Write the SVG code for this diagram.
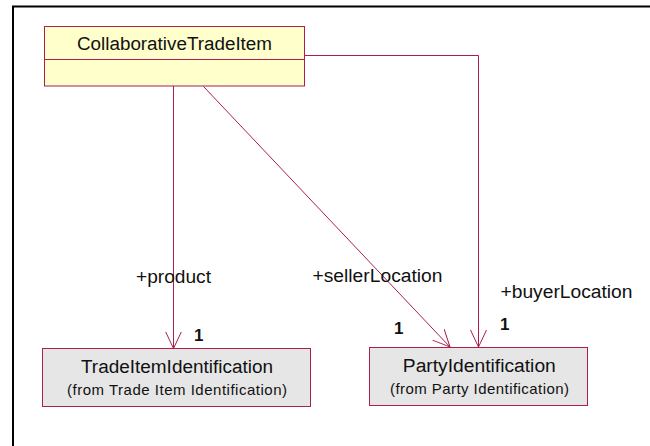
<svg xmlns="http://www.w3.org/2000/svg" width="650" height="446" viewBox="0 0 650 446">
<style>
.box{stroke:#AC1E52;stroke-width:1}
.cls{fill:#FFFFCC}
.ext{fill:#E6E6E6}
.t{font-family:"Liberation Sans",Arial,sans-serif;fill:#111;}
.big{font-size:18px;text-anchor:middle}
.small{font-size:15px;text-anchor:middle}
.lbl{font-size:18px}
.mul{font-size:17px;font-weight:bold}
.conn{fill:none;stroke:#AC1E52;stroke-width:1}
</style>
<defs>
<marker id="open" viewBox="0 0 18 18" markerWidth="18" markerHeight="18" refX="17" refY="9" orient="auto" markerUnits="userSpaceOnUse">
<path d="M0,1 L17,9 L0,17" fill="none" stroke="#AC1E52" stroke-width="1"/>
</marker>
</defs>
<rect width="650" height="446" fill="#fff"/>
<path d="M13,446 V6.5 H650" fill="none" stroke="#000" stroke-width="2"/>
<g id="connectors">
<path class="conn" d="M173.5,86 V348.5" marker-end="url(#open)"/>
<path class="conn" d="M203.5,86.5 L450,347" marker-end="url(#open)"/>
<path class="conn" d="M305,55.5 H478.5 V347" marker-end="url(#open)"/>
<text class="t lbl" x="136" y="283" textLength="75" lengthAdjust="spacingAndGlyphs">+product</text>
<text class="t lbl" x="312.5" y="281.5" textLength="130" lengthAdjust="spacingAndGlyphs">+sellerLocation</text>
<text class="t lbl" x="500.5" y="298.3" textLength="132" lengthAdjust="spacingAndGlyphs">+buyerLocation</text>
<text class="t mul" x="194" y="340.5">1</text>
<text class="t mul" x="394" y="334">1</text>
<text class="t mul" x="500" y="330.3">1</text>
</g>
<g id="CollaborativeTradeItem">
<rect class="box cls" x="44.5" y="26.5" width="260" height="59.5"/>
<line class="box" x1="44.5" y1="59.5" x2="304.5" y2="59.5"/>
<text class="t big" x="174.5" y="50" textLength="195" lengthAdjust="spacingAndGlyphs">CollaborativeTradeItem</text>
</g>
<g id="TradeItemIdentification">
<rect class="box ext" x="42.5" y="348.5" width="268" height="58"/>
<text class="t big" x="177" y="373" textLength="192" lengthAdjust="spacingAndGlyphs">TradeItemIdentification</text>
<text class="t small" x="177" y="394.5" textLength="220" lengthAdjust="spacing">(from Trade Item Identification)</text>
</g>
<g id="PartyIdentification">
<rect class="box ext" x="369.5" y="347.5" width="218" height="58"/>
<text class="t big" x="479.3" y="371.5" textLength="153" lengthAdjust="spacingAndGlyphs">PartyIdentification</text>
<text class="t small" x="479.5" y="393.5" textLength="179" lengthAdjust="spacing">(from Party Identification)</text>
</g>
</svg>
